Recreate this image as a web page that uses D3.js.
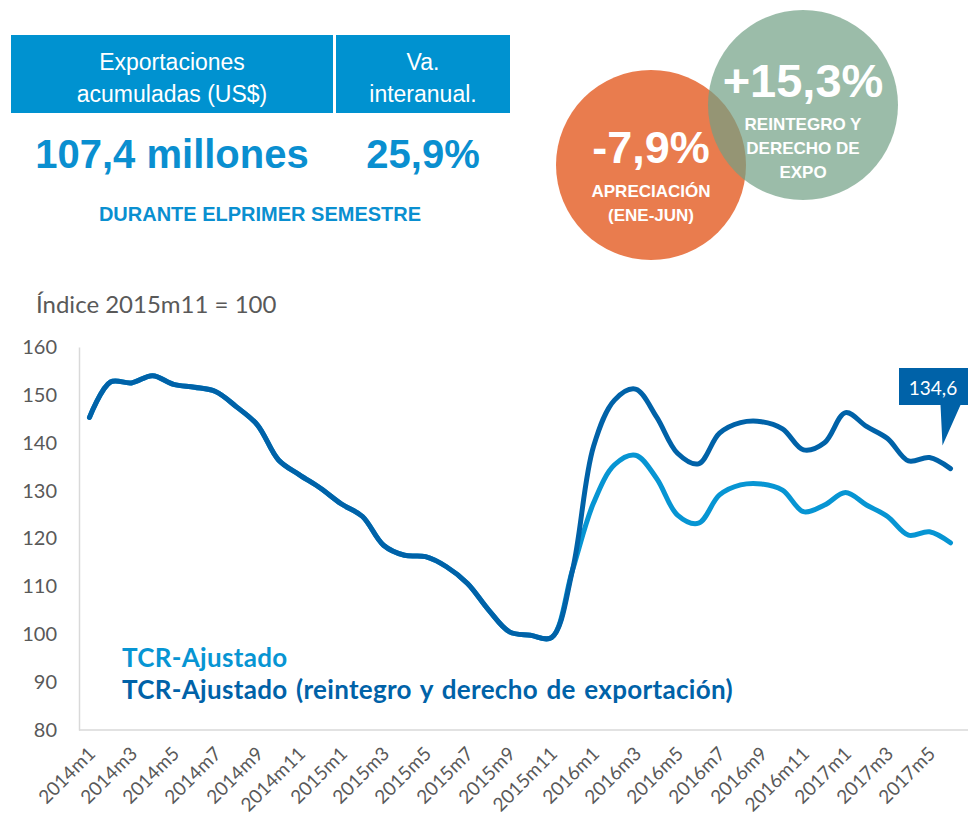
<!DOCTYPE html>
<html>
<head>
<meta charset="utf-8">
<script src="https://cdn.jsdelivr.net/npm/d3@7"></script>
<style>
  body { margin: 0; background: #fff; }
  svg { display: block; }
</style>
</head>
<body>
<svg id="graph" width="968" height="823"></svg>
<script>
// données
const meses = [
  "2014m1","2014m2","2014m3","2014m4","2014m5","2014m6","2014m7","2014m8","2014m9","2014m10","2014m11","2014m12",
  "2015m1","2015m2","2015m3","2015m4","2015m5","2015m6","2015m7","2015m8","2015m9","2015m10","2015m11","2015m12",
  "2016m1","2016m2","2016m3","2016m4","2016m5","2016m6","2016m7","2016m8","2016m9","2016m10","2016m11","2016m12",
  "2017m1","2017m2","2017m3","2017m4","2017m5","2017m6"
];
const tcrReintegro = [
  145.3, 152.7, 152.5, 154.0, 152.2, 151.6, 150.7, 147.5, 143.7, 136.4, 133.3, 130.5,
  127.2, 124.6, 118.6, 116.5, 116.2, 114.1, 110.6, 105.1, 100.5, 99.8, 99.3, 113.4,
  139.2, 148.9, 151.2, 145.4, 137.8, 135.6, 142.0, 144.2, 144.4, 142.9, 138.5, 140.0,
  146.3, 143.4, 140.9, 136.2, 136.9, 134.6
];
const tcrAjustado = [
  145.3, 152.7, 152.5, 154.0, 152.2, 151.6, 150.7, 147.5, 143.7, 136.4, 133.3, 130.5,
  127.2, 124.6, 118.6, 116.5, 116.2, 114.1, 110.6, 105.1, 100.5, 99.8, 99.3, 113.4,
  127.4, 135.4, 137.4, 132.6, 124.9, 123.2, 129.1, 131.2, 131.4, 130.1, 125.6, 127.0,
  129.6, 127.0, 124.6, 120.7, 121.4, 119.1
];
const yTicks = [80, 90, 100, 110, 120, 130, 140, 150, 160];
const etiquetasX = meses.filter((d, i) => i % 2 === 0);
const leyenda = ["TCR-Ajustado", "TCR-Ajustado (reintegro y derecho de exportación)"];

const azulClaro = "#0795d3";
const azulOscuro = "#0062a8";
const gris = "#595959";
const fuenteGraf = "Lato, 'Liberation Sans', sans-serif";
const fuenteCab = "'Liberation Sans', Arial, sans-serif";

const svg = d3.select("#graph");

// ---------- cabecera (tabla azul) ----------
const cajas = [
  { x: 11, w: 322, l1: "Exportaciones", l2: "acumuladas (US$)", valor: "107,4 millones" },
  { x: 336, w: 174, l1: "Va.", l2: "interanual.", valor: "25,9%" }
];
const cab = svg.append("g");
cab.selectAll("rect").data(cajas).join("rect")
  .attr("x", d => d.x).attr("y", 35).attr("width", d => d.w).attr("height", 78)
  .attr("fill", "#0092d0");
cab.selectAll(".l1").data(cajas).join("text")
  .attr("x", d => d.x + d.w / 2).attr("y", 70)
  .attr("text-anchor", "middle").attr("fill", "#fff")
  .style("font-family", fuenteCab).style("font-size", "23px")
  .text(d => d.l1);
cab.selectAll(".l2").data(cajas).join("text")
  .attr("x", d => d.x + d.w / 2).attr("y", 102)
  .attr("text-anchor", "middle").attr("fill", "#fff")
  .style("font-family", fuenteCab).style("font-size", "23px")
  .text(d => d.l2);
cab.selectAll(".val").data(cajas).join("text")
  .attr("x", d => d.x + d.w / 2).attr("y", 168)
  .attr("text-anchor", "middle").attr("fill", "#0a8fd0")
  .style("font-family", fuenteCab).style("font-size", "40px").style("font-weight", "bold")
  .text(d => d.valor);
cab.append("text")
  .attr("x", 260).attr("y", 221)
  .attr("text-anchor", "middle").attr("fill", "#0a8fd0")
  .style("font-family", fuenteCab).style("font-size", "20px").style("font-weight", "bold")
  .text("DURANTE ELPRIMER SEMESTRE");

// ---------- círculos ----------
const circulos = [
  { cx: 651, cy: 165, r: 95, color: "#e97c4e", op: 1, big: "-7,9%", bigY: 163, bigSize: 45,
    lineas: ["APRECIACIÓN", "(ENE-JUN)"], y0: 197 },
  { cx: 803, cy: 105, r: 95, color: "rgb(112,159,132)", op: 0.7, big: "+15,3%", bigY: 97, bigSize: 47,
    lineas: ["REINTEGRO Y", "DERECHO DE", "EXPO"], y0: 130 }
];
circulos.forEach(c => {
  const g = svg.append("g");
  g.append("circle").attr("cx", c.cx).attr("cy", c.cy).attr("r", c.r)
    .attr("fill", c.color).attr("fill-opacity", c.op);
  g.append("text").attr("x", c.cx).attr("y", c.bigY)
    .attr("text-anchor", "middle").attr("fill", "#fff")
    .style("font-family", fuenteCab).style("font-size", c.bigSize + "px").style("font-weight", "bold")
    .text(c.big);
  g.selectAll(".sub").data(c.lineas).join("text")
    .attr("x", c.cx).attr("y", (d, i) => c.y0 + i * 24)
    .attr("text-anchor", "middle").attr("fill", "#fff")
    .style("font-family", fuenteCab).style("font-size", "17px").style("font-weight", "bold")
    .text(d => d);
});

// ---------- gráfico ----------
const izq = 79, der = 961, arriba = 347, abajo = 730;

svg.append("text")
  .attr("x", 36).attr("y", 313)
  .attr("fill", gris)
  .style("font-family", fuenteGraf).style("font-size", "24px")
  .text("Índice 2015m11 = 100");

const x = d3.scaleBand().domain(meses).range([izq, der]);
const y = d3.scaleLinear().domain([80, 160]).range([abajo, arriba]);

// eje Y
const ejeY = svg.append("g")
  .attr("transform", `translate(${izq},0)`)
  .call(d3.axisLeft(y).tickValues(yTicks).tickSize(0).tickPadding(22));
ejeY.select(".domain").attr("stroke", "#d9d9d9").attr("stroke-width", 1.5);
ejeY.selectAll("text").attr("fill", gris)
  .style("font-family", fuenteGraf).style("font-size", "20px");

// eje X
const ejeX = svg.append("g")
  .attr("transform", `translate(0,${abajo})`)
  .call(d3.axisBottom(x).tickValues(etiquetasX).tickSize(0).tickPadding(0));
ejeX.select(".domain").attr("stroke", "#d9d9d9").attr("stroke-width", 1.5)
  .attr("d", `M${izq},0H968`);
ejeX.selectAll("text")
  .attr("fill", gris)
  .style("font-family", fuenteGraf).style("font-size", "19px")
  .attr("text-anchor", "end")
  .attr("dy", 0)
  .attr("transform", "translate(7,25) rotate(-45)");

const cx = d => x(d) + x.bandwidth() / 2;
const linea = d3.line()
  .x((d, i) => cx(meses[i]))
  .y(d => y(d))
  .curve(d3.curveCatmullRom.alpha(0.5));

svg.append("path").datum(tcrAjustado)
  .attr("d", linea).attr("fill", "none")
  .attr("stroke", azulClaro).attr("stroke-width", 5).attr("stroke-linecap", "round");
svg.append("path").datum(tcrReintegro)
  .attr("d", linea).attr("fill", "none")
  .attr("stroke", azulOscuro).attr("stroke-width", 5).attr("stroke-linecap", "round");

// leyenda
svg.selectAll(".leyenda").data(leyenda).join("text")
  .attr("class", "leyenda")
  .attr("x", 122).attr("y", (d, i) => 667 + i * 32)
  .attr("fill", (d, i) => i === 0 ? azulClaro : azulOscuro)
  .style("font-family", fuenteGraf).style("font-size", "26px").style("font-weight", "bold")
  .style("word-spacing", "2px").style("letter-spacing", "0.3px")
  .text(d => d);

// etiqueta del último valor
const ultimo = tcrReintegro[tcrReintegro.length - 1];
const px = cx(meses[meses.length - 1]);
const py = y(ultimo);
const bx = 899, by = 368, bw = 72, bh = 37;
svg.append("path")
  .attr("d", `M${bx},${by}H${bx + bw}V${by + bh}H${px + 10}L${px - 8},${py - 23}L${px - 10},${by + bh}H${bx}Z`)
  .attr("fill", azulOscuro);
svg.append("text")
  .attr("x", 933).attr("y", 395)
  .attr("text-anchor", "middle").attr("fill", "#fff")
  .style("font-family", fuenteGraf).style("font-size", "19px")
  .text(d3.format(".1f")(ultimo).replace(".", ","));
</script>
</body>
</html>
